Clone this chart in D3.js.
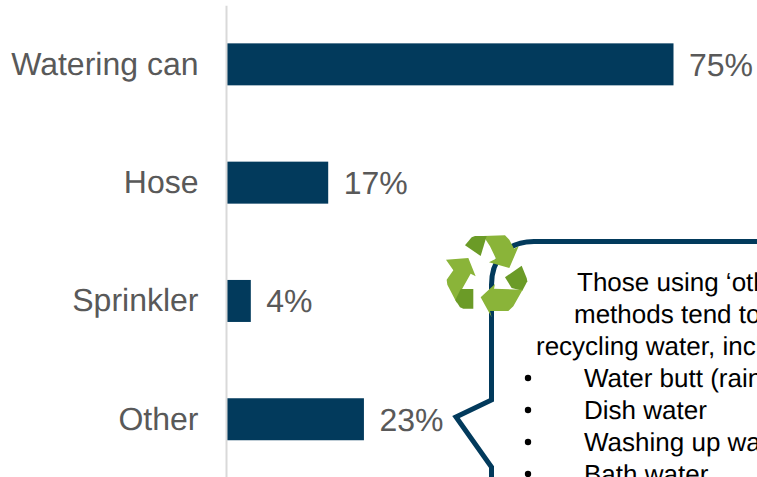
<!DOCTYPE html>
<html>
<head>
<meta charset="utf-8">
<script src="https://cdnjs.cloudflare.com/ajax/libs/d3/7.8.5/d3.min.js"></script>
<style>
html,body{margin:0;padding:0;background:#fff;overflow:hidden}
text{font-family:"Liberation Sans",Arial,sans-serif;text-rendering:geometricPrecision}
</style>
</head>
<body>
<svg id="chart" width="757" height="477"></svg>
<script>
// Watering methods
const categories = ["Watering can", "Hose", "Sprinkler", "Other"];
const shares = [75, 17, 4, 23];

// Callout copy
const introLines = [
  {text: "Those using ‘other’", x: 577},
  {text: "methods tend to be", x: 574},
  {text: "recycling water, including:", x: 536}
];
const bulletLines = [
  {text: "Water butt (rainwater)", x: 584},
  {text: "Dish water", x: 584},
  {text: "Washing up water", x: 584},
  {text: "Bath water", x: 584}
];

const navy = "#023a5c";
const svg = d3.select("#chart");

const x = d3.scaleLinear().domain([0, 75]).range([227, 673.5]);
const y = d3.scaleBand().domain(categories).range([5.2, 478.4]).paddingInner(0.645).paddingOuter(0.3225);

// Bars and value labels
svg.append("g").selectAll("rect").data(categories).join("rect")
  .attr("x", x(0))
  .attr("y", d => y(d))
  .attr("width", (d, i) => x(shares[i]) - x(0))
  .attr("height", y.bandwidth())
  .attr("fill", navy);

svg.append("g").selectAll("text").data(categories).join("text")
  .attr("x", (d, i) => x(shares[i]) + 15.5)
  .attr("y", d => y(d) + y.bandwidth() / 2 + 11.5)
  .attr("font-size", 32)
  .attr("fill", "#595959")
  .text((d, i) => shares[i] + "%");

// Category axis
const axis = svg.append("g")
  .attr("transform", "translate(226,0)")
  .call(d3.axisLeft(y).tickSize(0).tickPadding(27.5));
axis.select(".domain").attr("stroke", "#d9d9d9").attr("stroke-width", 2);
axis.selectAll("text")
  .attr("font-size", 32)
  .attr("font-family", '"Liberation Sans",Arial,sans-serif')
  .attr("fill", "#595959");

// Speech-bubble outline, running off the right and bottom edges
svg.append("path")
  .attr("d", "M770,241.5 H534 C508,241.5 491.5,258 491.5,285 V400 L456,417 L491.5,467 V490")
  .attr("fill", "none")
  .attr("stroke", navy)
  .attr("stroke-width", 5)
  .attr("stroke-linejoin", "miter");

// Callout text
const body = svg.append("g").attr("font-size", 26).attr("fill", "#000");
const lineY = i => 291 + i * 32;
body.selectAll("text.intro").data(introLines).join("text")
  .attr("class", "intro")
  .attr("x", d => d.x)
  .attr("y", (d, i) => lineY(i))
  .text(d => d.text);
body.selectAll("text.item").data(bulletLines).join("text")
  .attr("class", "item")
  .attr("x", d => d.x)
  .attr("y", (d, i) => lineY(i + 3))
  .text(d => d.text);
body.selectAll("circle").data(bulletLines).join("circle")
  .attr("cx", 528)
  .attr("cy", (d, i) => lineY(i + 3) - 9)
  .attr("r", 3.2)
  .attr("fill", "#000");

// Recycling symbol
const icon = svg.append("g").attr("transform", "translate(440,228) scale(0.3333)");
const light = "#8ab439", dark = "#6b9b27";
[
  [light, "M130,24 L195,22 L208,35 L222,62 L236,55 L208,120 L147,103 L168,92 L150,55 Z"],
  [dark, "M75,52 L95,28 L105,24 L140,24 L122,84 Z"],
  [light, "M18,95 L85,90 L107,145 L92,137 L65,185 L50,224 L22,170 L20,155 L40,127 Z"],
  [dark, "M62,183 L100,183 L100,242 L70,242 L60,238 L46,216 Z"],
  [dark, "M195,148 L245,113 L260,150 L262,160 L247,188 L215,180 Z"],
  [light, "M122,208 L165,168 L162,182 L248,185 L220,235 L205,249 L150,249 L155,268 Z"]
].forEach(([fill, d]) => icon.append("path").attr("d", d).attr("fill", fill));
</script>
</body>
</html>
